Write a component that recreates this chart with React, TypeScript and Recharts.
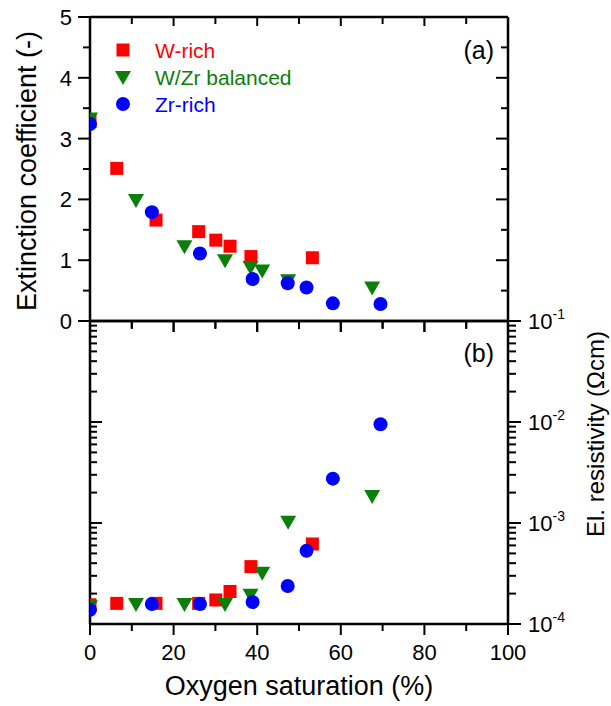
import React from 'react';
import { ScatterChart, Scatter, XAxis, YAxis } from 'recharts';

// oxygen saturation (%), extinction coefficient (-), resistivity (Ohm cm)
const wRichX = [0, 6.4, 15.8, 26.0, 30.1, 33.5, 38.5, 53.2];
const wRichK = [3.28, 2.51, 1.66, 1.47, 1.33, 1.23, 1.06, 1.04];
const wRichRho = [1.55e-4, 1.6e-4, 1.6e-4, 1.6e-4, 1.73e-4, 2.1e-4, 3.7e-4, 6.2e-4];

const balX = [0, 11.0, 22.6, 32.3, 38.4, 41.2, 47.4, 67.5];
const balK = [3.33, 1.99, 1.23, 1.0, 0.89, 0.83, 0.67, 0.55];
const balRho = [1.5e-4, 1.58e-4, 1.58e-4, 1.58e-4, 1.95e-4, 3.22e-4, 1.03e-3, 1.85e-3];

const zrX = [0, 14.8, 26.3, 38.9, 47.3, 51.8, 58.1, 69.5];
const zrK = [3.24, 1.79, 1.11, 0.69, 0.62, 0.55, 0.29, 0.28];
const zrRho = [1.38e-4, 1.58e-4, 1.58e-4, 1.65e-4, 2.38e-4, 5.3e-4, 2.75e-3, 9.5e-3];

const xTicks = [0, 10, 20, 30, 40, 50, 60, 70, 80, 90, 100];
const kTicks = [0, 0.5, 1, 1.5, 2, 2.5, 3, 3.5, 4, 4.5, 5];
const rhoTicks = [
  1e-4, 2e-4, 3e-4, 4e-4, 5e-4, 6e-4, 7e-4, 8e-4, 9e-4,
  1e-3, 2e-3, 3e-3, 4e-3, 5e-3, 6e-3, 7e-3, 8e-3, 9e-3,
  1e-2, 2e-2, 3e-2, 4e-2, 5e-2, 6e-2, 7e-2, 8e-2, 9e-2,
  1e-1,
];

const FONT = '"Liberation Sans", Arial, sans-serif';
const RED = '#ff0000';
const GREEN = '#0a800a';
const BLUE = '#0000ff';

const toRows = (xs: number[], ks: number[], rhos: number[]) =>
  xs.map((x, i) => ({ x, k: ks[i], rho: rhos[i] }));

const wRich = toRows(wRichX, wRichK, wRichRho);
const balanced = toRows(balX, balK, balRho);
const zrRich = toRows(zrX, zrK, zrRho);

const Square = ({ cx, cy }: any) => <rect x={cx - 6.5} y={cy - 6.5} width={13} height={13} fill={RED} />;
const TriDown = ({ cx, cy }: any) => (
  <polygon points={`${cx - 8},${cy - 6} ${cx + 8},${cy - 6} ${cx},${cy + 8}`} fill={GREEN} />
);
const Dot = ({ cx, cy }: any) => <circle cx={cx} cy={cy} r={7} fill={BLUE} />;

const series = [
  { name: 'W-rich', data: wRich, color: RED, shape: Square },
  { name: 'W/Zr balanced', data: balanced, color: GREEN, shape: TriDown },
  { name: 'Zr-rich', data: zrRich, color: BLUE, shape: Dot },
];

const isX20 = (v: number) => v % 20 === 0;
const isInt = (v: number) => Math.abs(v - Math.round(v)) < 1e-6;
const isDecade = (v: number) => isInt(Math.log10(v));

// draws the tick line (and optional label) itself; dx/dy give the direction
const tickDrawer = (
  dx: number,
  dy: number,
  major: (v: number) => boolean,
  majorLen: number,
  minorLen: number,
  label?: (v: number, x: number, y: number) => React.ReactNode,
) => (props: any) => {
  const { x, y, payload } = props;
  const v = payload.value;
  const len = major(v) ? majorLen : minorLen;
  return (
    <g>
      <line x1={x} y1={y} x2={x + dx * len} y2={y + dy * len} stroke="#000" strokeWidth={2} />
      {label ? label(v, x, y) : null}
    </g>
  );
};

const xLabel = (v: number, x: number, y: number) =>
  isX20(v) ? (
    <text x={x} y={y + 36} textAnchor="middle" fontSize={22} fontFamily={FONT} fill="#000">
      {v}
    </text>
  ) : null;

const kLabel = (v: number, x: number, y: number) =>
  isInt(v) ? (
    <text x={x - 18} y={y + 8} textAnchor="end" fontSize={22} fontFamily={FONT} fill="#000">
      {v}
    </text>
  ) : null;

const rhoLabel = (v: number, x: number, y: number) =>
  isDecade(v) ? (
    <text x={x + 20} y={y + 8} fontSize={22} fontFamily={FONT} fill="#000">
      10
      <tspan fontSize={14} dy={-10}>
        {String(Math.round(Math.log10(v)))}
      </tspan>
    </text>
  ) : null;

const axisLine = { stroke: '#000', strokeWidth: 2.5 };

const markers = () =>
  series.map((s) => (
    <Scatter
      key={s.name}
      name={s.name}
      data={s.data}
      xAxisId="b"
      yAxisId="main"
      fill={s.color}
      shape={s.shape}
      isAnimationActive={false}
    />
  ));

const TopPanel = () => (
  <ScatterChart width={611} height={340} margin={{ top: 16, right: 102, bottom: 18, left: 89 }}>
    <XAxis xAxisId="b" type="number" dataKey="x" domain={[0, 100]} ticks={xTicks} interval={0}
      height={1} tickSize={0} tickMargin={0} axisLine={axisLine} tickLine={false}
      tick={tickDrawer(0, 1, isX20, 11, 7)} allowDataOverflow />
    <XAxis xAxisId="t" orientation="top" type="number" dataKey="x" domain={[0, 100]} ticks={xTicks} interval={0}
      height={1} tickSize={0} tickMargin={0} axisLine={axisLine} tickLine={false}
      tick={tickDrawer(0, 1, isX20, 9, 7)} allowDataOverflow />
    <YAxis yAxisId="main" type="number" dataKey="k" domain={[0, 5]} ticks={kTicks} interval={0}
      width={1} tickSize={0} tickMargin={0} axisLine={axisLine} tickLine={false}
      tick={tickDrawer(-1, 0, isInt, 12, 7, kLabel)} allowDataOverflow />
    <YAxis yAxisId="r" orientation="right" type="number" dataKey="k" domain={[0, 5]} ticks={kTicks} interval={0}
      width={1} tickSize={0} tickMargin={0} axisLine={axisLine} tickLine={false}
      tick={tickDrawer(-1, 0, isInt, 12, 7)} allowDataOverflow />
    {markers()}
  </ScatterChart>
);

const BottomPanel = () => (
  <ScatterChart width={611} height={406} margin={{ top: 20, right: 102, bottom: 81, left: 89 }}>
    <XAxis xAxisId="b" type="number" dataKey="x" domain={[0, 100]} ticks={xTicks} interval={0}
      height={1} tickSize={0} tickMargin={0} axisLine={axisLine} tickLine={false}
      tick={tickDrawer(0, 1, isX20, 11, 7, xLabel)} allowDataOverflow />
    <XAxis xAxisId="t" orientation="top" type="number" dataKey="x" domain={[0, 100]} ticks={xTicks} interval={0}
      height={1} tickSize={0} tickMargin={0} axisLine={axisLine} tickLine={false}
      tick={tickDrawer(0, 1, isX20, 11, 8)} allowDataOverflow />
    <YAxis yAxisId="l" type="number" scale="log" dataKey="rho" domain={[1e-4, 1e-1]} ticks={rhoTicks} interval={0}
      width={1} tickSize={0} tickMargin={0} axisLine={axisLine} tickLine={false}
      tick={tickDrawer(1, 0, isDecade, 12, 7)} allowDataOverflow />
    <YAxis yAxisId="main" orientation="right" type="number" scale="log" dataKey="rho" domain={[1e-4, 1e-1]}
      ticks={rhoTicks} interval={0} width={1} tickSize={0} tickMargin={0} axisLine={axisLine} tickLine={false}
      tick={tickDrawer(1, 0, isDecade, 13, 8, rhoLabel)} allowDataOverflow />
    {markers()}
  </ScatterChart>
);

const Overlay = () => (
  <svg width={611} height={706} style={{ position: 'absolute', left: 0, top: 0, pointerEvents: 'none' }}>
    <g fontFamily={FONT}>
      {series.map((s, i) => {
        const Shape = s.shape;
        const cy = 50 + i * 27;
        return (
          <g key={s.name}>
            <Shape cx={123} cy={cy} />
            <text x={155} y={cy + 7.5} fontSize={21} fill={s.color}>
              {s.name}
            </text>
          </g>
        );
      })}
      <text x={494} y={59} textAnchor="end" fontSize={25} fill="#000">(a)</text>
      <text x={494} y={362} textAnchor="end" fontSize={25} fill="#000">(b)</text>
      <text x={299} y={695} textAnchor="middle" fontSize={27} fill="#000">Oxygen saturation (%)</text>
      <text transform="translate(36,171) rotate(-90)" textAnchor="middle" fontSize={27} fill="#000">
        Extinction coefficient (-)
      </text>
      <text transform="translate(604,434) rotate(-90)" textAnchor="middle" fontSize={24} fill="#000">
        El. resistivity (Ωcm)
      </text>
    </g>
  </svg>
);

export default function App() {
  return (
    <div style={{ position: 'absolute', left: 0, top: 0, width: 611, height: 706, background: '#fff' }}>
      <div style={{ position: 'absolute', left: 0, top: 0 }}>
        <TopPanel />
      </div>
      <div style={{ position: 'absolute', left: 0, top: 300 }}>
        <BottomPanel />
      </div>
      <Overlay />
    </div>
  );
}
